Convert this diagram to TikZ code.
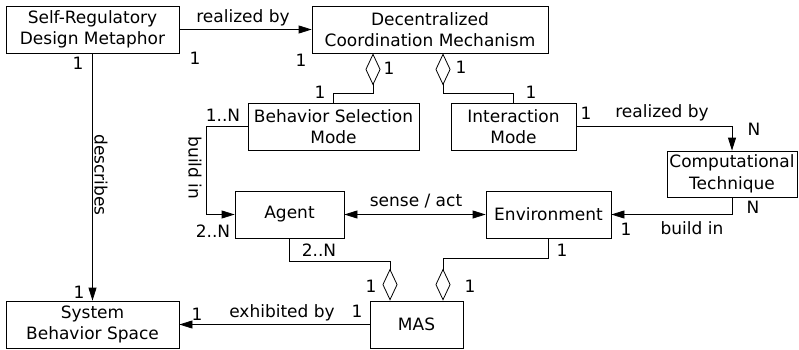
\documentclass[tikz,border=0pt]{standalone}
\usepackage{fontspec}
\setmainfont{DejaVu Sans}
\usetikzlibrary{arrows.meta,calc}
\tikzset{
  cls/.style={draw, align=center, inner sep=0pt, minimum height=47pt},
  agg/.style={-{Diamond[open,length=32pt,width=15pt]}},
  lbl/.style={inner sep=0pt},
}
\begin{document}
\begin{tikzpicture}[x=1pt, y=-1pt, font=\fontsize{17}{21.5}\selectfont, line width=0.8pt, line join=miter, >={Triangle[length=13pt,width=8pt]}]
\useasboundingbox (0,0) rectangle (799,350);
% classes
\node[cls, minimum width=173pt] (srdm) at (92.5,29.5) {Self-Regulatory\\Design Metaphor};
\node[cls, minimum width=236pt] (dcm) at (430,29.5) {Decentralized\\Coordination Mechanism};
\node[cls, minimum width=171pt] (bsm) at (333.5,126.5) {Behavior Selection\\Mode};
\node[cls, minimum width=125pt] (im) at (513.5,126.5) {Interaction\\Mode};
\node[cls, minimum width=130pt, minimum height=46pt] (ct) at (732,174) {Computational\\Technique};
\node[cls, minimum width=109pt] (agent) at (289.5,214.5) {Agent};
\node[cls, minimum width=125pt] (env) at (548.5,214.5) {Environment};
\node[cls, minimum width=173pt] (sbs) at (92.5,324.5) {System\\Behavior Space};
\node[cls, minimum width=93pt] (mas) at (416.5,324.5) {MAS};
% diamond ends
\coordinate (d1) at ($(dcm.south)+(-57,0)$);
\coordinate (d2) at ($(dcm.south)+(13,0)$);
\coordinate (m1) at ($(mas.north)+(-26.5,0)$);
\coordinate (m2) at ($(mas.north)+(26.5,0)$);
% associations
\draw[->] (srdm) -- (dcm);
\draw[->] (srdm) -- (sbs);
\draw[agg] (bsm.north) -- ++(0,-9) -| (d1);
\draw[agg] (im.north) -- ++(0,-9) -| (d2);
\draw[->] (im) -| (ct);
\draw[->] (ct) |- (env);
\draw[->] (bsm.west) -- ++(-41,0) |- (agent);
\draw[<->] (agent) -- (env);
\draw[agg] (agent.south) -- ++(0,23) -| (m1);
\draw[agg] (env.south) -- ++(0,20) -| (m2);
\draw[->] (mas) -- (sbs);
% labels
\node[lbl] (l1) at (243,18) {realized by};
\node[lbl] (l2) at (195,58) {1};
\node[lbl] (l3) at (301,60) {1};
\node[lbl] (l4) at (78,63) {1};
\node[lbl] (l5) at (79,292) {1};
\node[lbl, rotate=-90] (l6) at (101,175) {describes};
\node[lbl] (l7) at (389,68) {1};
\node[lbl] (l8) at (461,67) {1};
\node[lbl] (l9) at (320,92) {1};
\node[lbl] (l10) at (531,92) {1};
\node[lbl] (l11) at (223,115) {1..N};
\node[lbl, rotate=-90] (l12) at (195,168) {build in};
\node[lbl] (l13) at (213,231) {2..N};
\node[lbl] (l14) at (416,201) {sense / act};
\node[lbl] (l15) at (586,113) {1};
\node[lbl] (l16) at (662,113) {realized by};
\node[lbl] (l17) at (754,129) {N};
\node[lbl] (l18) at (753,207) {N};
\node[lbl] (l19) at (626,229) {1};
\node[lbl] (l20) at (692,228) {build in};
\node[lbl] (l21) at (319,250) {2..N};
\node[lbl] (l22) at (562,250) {1};
\node[lbl] (l23) at (371,286) {1};
\node[lbl] (l24) at (470,286) {1};
\node[lbl] (l25) at (282,313) {exhibited by};
\node[lbl] (l26) at (197,314) {1};
\node[lbl] (l27) at (357,311) {1};
\end{tikzpicture}
\end{document}
